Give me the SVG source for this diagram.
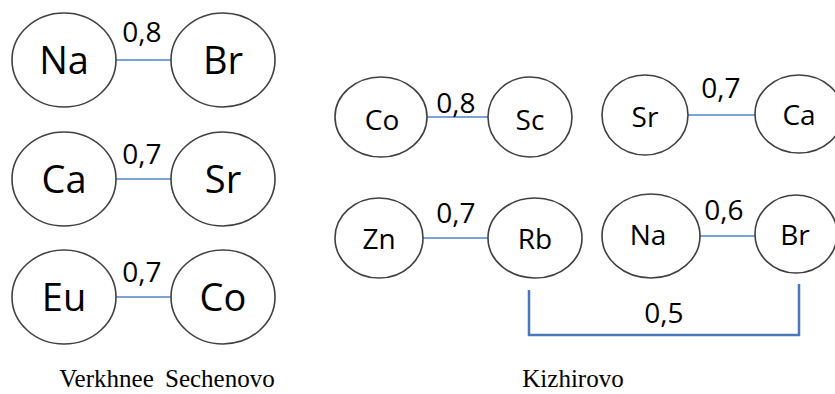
<svg xmlns="http://www.w3.org/2000/svg" width="835" height="394" viewBox="0 0 835 394">
<style>
.n{fill:#fff;stroke:#404040;stroke-width:1.6}
.big{font-family:"Open Sans","Noto Sans",sans-serif;font-size:38px;fill:#000;text-anchor:middle}
.sm{font-family:"Open Sans","Noto Sans",sans-serif;font-size:28px;fill:#000;text-anchor:middle}
.lbl{font-family:"Open Sans","Noto Sans",sans-serif;font-size:28px;fill:#000;text-anchor:middle}
.e{stroke:#7AA3D8;stroke-width:2;fill:none}
.b{stroke:#4A76BE;stroke-width:2.5;fill:none}
</style>
<rect width="835" height="394" fill="#fff"/>
<g id="connectors">
<line class="e" x1="116" y1="60" x2="171" y2="60"/>
<line class="e" x1="116" y1="179" x2="171" y2="179"/>
<line class="e" x1="116" y1="297" x2="171" y2="297"/>
<line class="e" x1="427" y1="117" x2="488" y2="117"/>
<line class="e" x1="688" y1="115" x2="755" y2="115"/>
<line class="e" x1="423" y1="238" x2="488" y2="238"/>
<line class="e" x1="700" y1="236" x2="755" y2="236"/>
<polyline class="b" points="529,290 529,335 799,335 799,284"/>
<text class="lbl" x="142" y="42">0,8</text>
<text class="lbl" x="142" y="164">0,7</text>
<text class="lbl" x="142" y="282">0,7</text>
<text class="lbl" x="456" y="113">0,8</text>
<text class="lbl" x="721" y="98">0,7</text>
<text class="lbl" x="456" y="223">0,7</text>
<text class="lbl" x="724" y="220">0,6</text>
<text class="lbl" x="664" y="323">0,5</text>
</g>
<g id="na1"><ellipse class="n" cx="64" cy="60" rx="52" ry="47"/><text class="big" x="64" y="74">Na</text></g>
<g id="br1"><ellipse class="n" cx="223" cy="60" rx="52" ry="47"/><text class="big" x="223" y="74">Br</text></g>
<g id="ca1"><ellipse class="n" cx="64" cy="179" rx="52" ry="47"/><text class="big" x="64" y="193">Ca</text></g>
<g id="sr1"><ellipse class="n" cx="223" cy="179" rx="52" ry="47"/><text class="big" x="223" y="193">Sr</text></g>
<g id="eu1"><ellipse class="n" cx="64" cy="297" rx="52" ry="47"/><text class="big" x="64" y="311">Eu</text></g>
<g id="co1"><ellipse class="n" cx="223" cy="297" rx="52" ry="47"/><text class="big" x="223" y="311">Co</text></g>
<g id="co2"><ellipse class="n" cx="381" cy="117" rx="46" ry="40"/><text class="sm" x="382" y="130">Co</text></g>
<g id="sc2"><ellipse class="n" cx="530" cy="117" rx="42" ry="40"/><text class="sm" x="530" y="130">Sc</text></g>
<g id="sr2"><ellipse class="n" cx="645" cy="115" rx="43" ry="40"/><text class="sm" x="645" y="127">Sr</text></g>
<g id="ca2"><ellipse class="n" cx="799" cy="114" rx="44" ry="39"/><text class="sm" x="799" y="125">Ca</text></g>
<g id="zn2"><ellipse class="n" cx="379" cy="238" rx="44" ry="40"/><text class="sm" x="379" y="249">Zn</text></g>
<g id="rb2"><ellipse class="n" cx="535" cy="238" rx="47" ry="40"/><text class="sm" x="535" y="249">Rb</text></g>
<g id="na2"><ellipse class="n" cx="651" cy="236" rx="49" ry="42"/><text class="sm" x="648" y="245">Na</text></g>
<g id="br2"><ellipse class="n" cx="796" cy="234" rx="41" ry="39"/><text class="sm" x="795" y="245">Br</text></g>
<text x="167" y="387" font-family="'Liberation Serif','DejaVu Serif','Times New Roman',serif" font-size="25" text-anchor="middle" word-spacing="5" fill="#000">Verkhnee Sechenovo</text>
<text x="573" y="387" font-family="'Liberation Serif','DejaVu Serif','Times New Roman',serif" font-size="25" text-anchor="middle" fill="#000">Kizhirovo</text>
</svg>
